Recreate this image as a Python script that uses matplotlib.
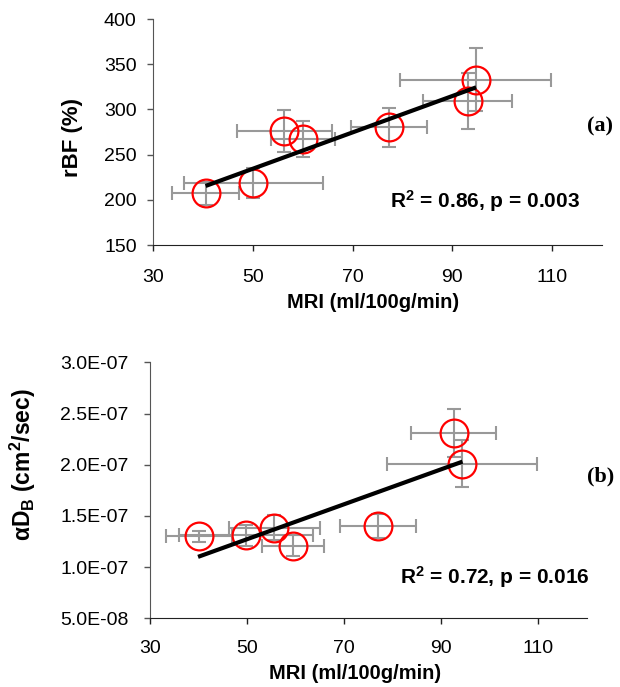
import numpy as np
import matplotlib
matplotlib.use("Agg")
import matplotlib.pyplot as plt
from matplotlib.ticker import FuncFormatter

plt.rcParams['font.family'] = ['Liberation Sans', 'DejaVu Sans']
plt.rcParams['mathtext.fontset'] = 'custom'
plt.rcParams['mathtext.rm'] = 'Liberation Sans:bold'
plt.rcParams['mathtext.it'] = 'Liberation Sans:bold'
plt.rcParams['mathtext.bf'] = 'Liberation Sans:bold'

# ---- Panel (a) data ----
mri_a = [40.5, 50.1, 56.3, 60.0, 77.3, 93.1, 94.7]
mri_err_a = [6.8, 14.0, 9.6, 6.4, 7.6, 8.9, 15.2]
rbf = [207, 218.5, 276, 267, 280, 309, 333]
rbf_err = [13, 17, 23, 20, 22, 31, 35]
fit_x_a = [40.5, 94.8]
fit_y_a = [215.3, 324.4]

# ---- Panel (b) data ----
mri_b = [40.1, 49.7, 55.6, 59.4, 77.0, 92.6, 94.3]
mri_err_b = [6.9, 13.8, 9.4, 6.4, 7.8, 8.8, 15.4]
adb = [1.30e-7, 1.31e-7, 1.385e-7, 1.21e-7, 1.40e-7, 2.31e-7, 2.01e-7]
adb_err = [0.057e-7, 0.10e-7, 0.12e-7, 0.105e-7, 0.12e-7, 0.23e-7, 0.23e-7]
fit_x_b = [39.9, 94.4]
fit_y_b = [1.10e-7, 2.03e-7]

xticks = [30, 50, 70, 90, 110]
yticks_a = [150, 200, 250, 300, 350, 400]
yticks_b = [5.0e-8, 1.0e-7, 1.5e-7, 2.0e-7, 2.5e-7, 3.0e-7]

fig = plt.figure(figsize=(6.2, 6.87), dpi=100)
W, H = 620, 687

def axes_px(x0, x1, ytop, ybot):
    return fig.add_axes([x0 / W, 1 - ybot / H, (x1 - x0) / W, (ybot - ytop) / H])

ax1 = axes_px(153.3, 601.7, 19, 245)
ax2 = axes_px(150, 586.7, 362.3, 618.3)

def style(ax, xpad, ypad):
    for s in ['top', 'right']:
        ax.spines[s].set_visible(False)
    ax.spines['left'].set_color('#555555')
    ax.spines['bottom'].set_color('#222222')
    ax.tick_params(axis='both', direction='out', length=4, width=1, labelsize=14,
                   colors='black')
    ax.tick_params(axis='x', pad=xpad, color='#222222')
    ax.tick_params(axis='y', pad=ypad, color='#555555')

def draw(ax, x, xe, y, ye, fx, fy):
    ax.errorbar(x, y, xerr=xe, yerr=ye, fmt='none', ecolor='#999999',
                elinewidth=1.5, capsize=5, capthick=1.5, zorder=2)
    ax.plot(x, y, 'o', ms=20, mfc='none', mec='#ff0000', mew=1.6, zorder=3)
    ax.plot(fx, fy, '-', color='black', lw=3, solid_capstyle='butt', zorder=4)

draw(ax1, mri_a, mri_err_a, rbf, rbf_err, fit_x_a, fit_y_a)
ax1.set_xlim(30, 120)
ax1.set_ylim(150, 400)
ax1.set_xticks(xticks)
ax1.set_yticks(yticks_a)
style(ax1, 13.5, 8)
ax1.set_xlabel('MRI (ml/100g/min)', fontsize=14.5, fontweight='bold')
ax1.xaxis.set_label_coords(0.489, -0.212)
ax1.set_ylabel('rBF (%)', fontsize=16, fontweight='bold')
ax1.yaxis.set_label_coords(-0.157, 0.476)
ax1.text(0.528, 0.1668, r'R$^{2}$ = 0.86, p = 0.003', transform=ax1.transAxes,
         fontsize=15, fontweight='bold', va='baseline', ha='left')

draw(ax2, mri_b, mri_err_b, adb, adb_err, fit_x_b, fit_y_b)
ax2.set_xlim(30, 120)
ax2.set_ylim(5.0e-8, 3.0e-7)
ax2.set_xticks(xticks)
ax2.set_yticks(yticks_b)
ax2.yaxis.set_major_formatter(FuncFormatter(lambda v, p: f"{v:.1E}"))
style(ax2, 11.5, 11.5)
ax2.set_xlabel('MRI (ml/100g/min)', fontsize=14.5, fontweight='bold')
ax2.xaxis.set_label_coords(0.4706, -0.18)
ax2.set_ylabel(r'αD$_{B}$ (cm$^{2}$/sec)', fontsize=16.5, fontweight='bold')
ax2.yaxis.set_label_coords(-0.256, 0.60)
ax2.text(0.5725, 0.1367, r'R$^{2}$ = 0.72, p = 0.016', transform=ax2.transAxes,
         fontsize=15, fontweight='bold', va='baseline', ha='left')

fig.text(0.9468, 1 - 126.7 / H, '(a)', fontsize=16, fontweight='bold',
         family='Liberation Serif', va='center', ha='left')
fig.text(0.9468, 1 - 476 / H, '(b)', fontsize=16, fontweight='bold',
         family='Liberation Serif', va='center', ha='left')

fig.savefig('out.png', dpi=100)
